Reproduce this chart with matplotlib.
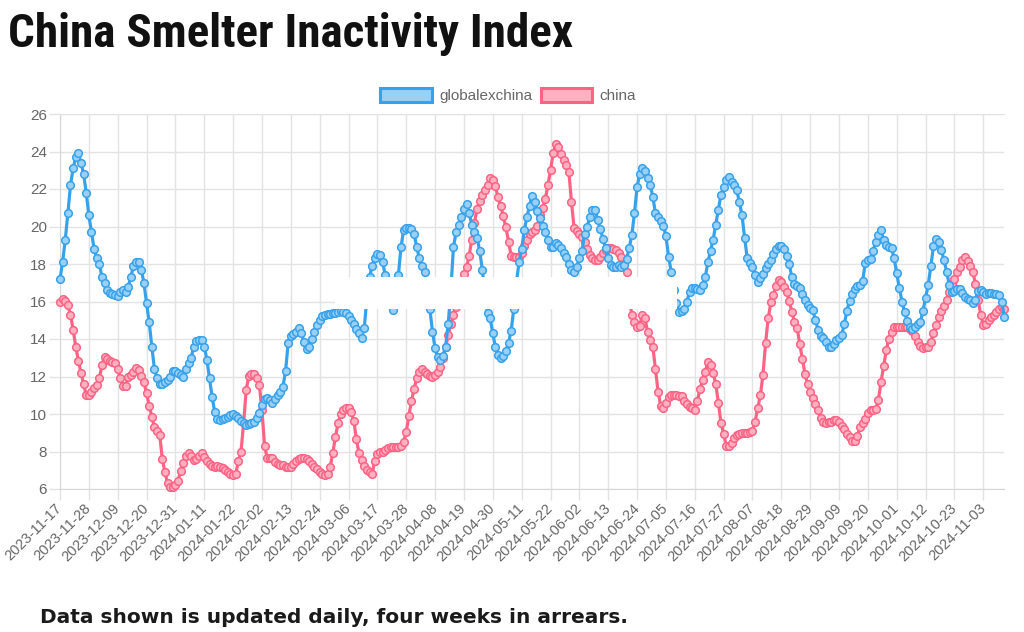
import matplotlib
matplotlib.use("Agg")
import matplotlib.pyplot as plt
from matplotlib.patches import Patch, Rectangle
import numpy as np
import pandas as pd

# ---------------- data ----------------
dates = pd.date_range("2023-11-17", periods=361, freq="D").strftime("%Y-%m-%d").tolist()

globalexchina = [
    17.2, 18.1, 19.3, 20.7, 22.2, 23.1, 23.7, 23.9, 23.4, 22.8, 21.8,
    20.6, 19.7, 18.8, 18.3, 18.0, 17.3, 17.0, 16.6, 16.45, 16.4, 16.35,
    16.3, 16.5, 16.6, 16.5, 16.8, 17.3, 17.9, 18.1, 18.1, 17.7, 17.0,
    15.9, 14.9, 13.6, 12.4, 11.9, 11.6, 11.6, 11.7, 11.8, 12.0, 12.3,
    12.3, 12.2, 12.1, 12.0, 12.4, 12.7, 13.0, 13.6, 13.9, 13.95, 13.95,
    13.6, 12.9, 11.9, 10.9, 10.1, 9.75, 9.7, 9.75, 9.8, 9.85, 9.95,
    10.0, 9.9, 9.8, 9.65, 9.5, 9.4, 9.45, 9.5, 9.6, 9.8, 10.05,
    10.5, 10.8, 10.85, 10.75, 10.6, 10.8, 11.0, 11.2, 11.45, 12.3, 13.8,
    14.15, 14.25, 14.4, 14.6, 14.3, 13.85, 13.45, 13.6, 14.0, 14.4, 14.75,
    15.0, 15.25, 15.3, 15.35, 15.35, 15.4, 15.4, 15.45, 15.5, 15.45, 15.4,
    15.25, 15.0, 14.8, 14.55, 14.3, 14.05, 14.6, 16.2, 17.3, 17.9, 18.3,
    18.55, 18.5, 18.1, 17.4, 16.6, 15.9, 15.55, 16.4, 17.4, 18.9, 19.8,
    19.9, 19.9, 19.85, 19.6, 18.9, 18.3, 17.9, 17.6, 16.7, 15.6, 14.4,
    13.5, 13.05, 12.9, 13.1, 13.6, 14.8, 16.6, 18.9, 19.7, 20.1, 20.5,
    20.95, 21.2, 20.7, 20.1, 19.7, 19.4, 18.7, 17.7, 16.4, 15.4, 15.1,
    14.3, 13.55, 13.15, 13.0, 13.1, 13.35, 13.8, 14.45, 15.6, 17.0, 18.1,
    18.8, 19.8, 20.5, 21.1, 21.65, 21.3, 20.85, 20.45, 20.05, 19.7, 19.3,
    18.9, 18.9, 19.1, 19.0, 18.85, 18.6, 18.35, 18.0, 17.7, 17.55, 17.85,
    18.3, 18.7, 19.6, 20.0, 20.5, 20.9, 20.9, 20.35, 19.85, 19.35, 18.85,
    18.3, 17.95, 17.85, 17.85, 17.95, 17.85, 17.95, 18.25, 18.85, 19.55, 20.7,
    22.1, 22.8, 23.1, 22.95, 22.6, 22.2, 21.6, 20.7, 20.5, 20.3, 20.05,
    19.5, 18.4, 17.6, 16.6, 15.9, 15.45, 15.5, 15.6, 16.0, 16.5, 16.7,
    16.7, 16.65, 16.6, 16.9, 17.3, 18.1, 18.7, 19.3, 20.1, 20.9, 21.7,
    22.1, 22.5, 22.65, 22.4, 22.2, 21.95, 21.3, 20.6, 19.4, 18.3, 18.05,
    17.85, 17.4, 17.05, 17.25, 17.45, 17.8, 18.0, 18.2, 18.55, 18.8, 18.95,
    18.95, 18.8, 18.45, 18.0, 17.3, 16.95, 16.85, 16.7, 16.4, 16.1, 15.8,
    15.65, 15.55, 15.0, 14.5, 14.15, 14.05, 13.85, 13.6, 13.55, 13.75, 13.95,
    14.05, 14.2, 14.8, 15.5, 16.05, 16.4, 16.65, 16.85, 16.9, 17.1, 18.05,
    18.2, 18.25, 18.7, 19.2, 19.55, 19.8, 19.3, 19.0, 18.9, 18.85, 18.3,
    17.5, 16.7, 16.0, 15.45, 14.95, 14.65, 14.55, 14.65, 14.8, 14.9, 15.5,
    16.2, 16.9, 17.9, 18.95, 19.35, 19.15, 18.75, 18.2, 17.6, 16.9, 16.5,
    16.55, 16.65, 16.65, 16.45, 16.25, 16.15, 16.1, 15.9, 16.1, 16.55, 16.6,
    16.5, 16.4, 16.45, 16.45, 16.4, 16.4, 16.35, 16.0, 15.2,
]

china = [
    16.0, 16.15, 16.05, 15.8, 15.3, 14.5, 13.6, 12.85, 12.2, 11.6, 11.0,
    11.0, 11.2, 11.4, 11.55, 11.9, 12.6, 13.05, 12.95, 12.85, 12.8, 12.7,
    12.4, 11.9, 11.5, 11.5, 11.95, 12.1, 12.25, 12.45, 12.35, 12.05, 11.7,
    11.1, 10.45, 9.85, 9.3, 9.1, 8.9, 7.6, 6.9, 6.3, 6.1, 6.1,
    6.2, 6.45, 6.95, 7.4, 7.75, 7.9, 7.75, 7.55, 7.6, 7.75, 7.9,
    7.7, 7.5, 7.35, 7.25, 7.15, 7.25, 7.2, 7.1, 7.0, 6.9, 6.8,
    6.75, 6.8, 7.5, 8.0, 9.5, 11.3, 12.05, 12.15, 12.15, 11.9, 11.55,
    10.2, 8.3, 7.65, 7.65, 7.65, 7.45, 7.35, 7.3, 7.3, 7.2, 7.15,
    7.15, 7.35, 7.5, 7.6, 7.65, 7.65, 7.6, 7.5, 7.35, 7.2, 7.05,
    6.9, 6.8, 6.75, 6.8, 7.2, 7.9, 8.8, 9.5, 10.0, 10.2, 10.3,
    10.3, 10.1, 9.65, 8.65, 7.9, 7.55, 7.25, 7.0, 6.9, 6.8, 7.5,
    7.85, 7.95, 8.0, 8.1, 8.2, 8.25, 8.25, 8.25, 8.25, 8.3, 8.5,
    9.05, 9.9, 10.7, 11.35, 11.9, 12.25, 12.4, 12.25, 12.15, 12.05, 12.0,
    12.1, 12.25, 12.5, 13.0, 13.55, 14.2, 14.8, 15.3, 15.7, 16.3, 16.9,
    17.45, 17.85, 18.45, 19.3, 20.2, 20.95, 21.35, 21.7, 21.95, 22.2, 22.6,
    22.5, 22.15, 21.55, 21.1, 20.55, 19.95, 19.2, 18.45, 18.4, 18.4, 18.4,
    18.6, 18.95, 19.3, 19.6, 19.7, 19.8, 20.05, 20.6, 21.0, 21.45, 22.2,
    23.0, 23.9, 24.4, 24.25, 23.85, 23.55, 23.3, 22.9, 21.3, 19.9, 19.75,
    19.6, 19.45, 19.2, 18.8, 18.5, 18.3, 18.2, 18.2, 18.4, 18.6, 18.75,
    18.85, 18.85, 18.8, 18.75, 18.6, 18.35, 18.0, 17.55, 16.2, 15.3, 14.9,
    14.65, 14.7, 15.3, 15.1, 14.4, 13.95, 13.6, 12.4, 11.2, 10.45, 10.3,
    10.6, 10.9, 11.0, 11.0, 11.0, 10.95, 10.95, 10.7, 10.55, 10.4, 10.3,
    10.2, 10.7, 11.35, 11.8, 12.25, 12.75, 12.6, 12.2, 11.6, 10.6, 9.5,
    8.95, 8.3, 8.3, 8.45, 8.7, 8.9, 8.95, 9.0, 9.0, 9.0, 9.05,
    9.1, 9.6, 10.3, 11.0, 12.1, 13.8, 15.1, 15.95, 16.35, 16.85, 17.15,
    17.05, 16.8, 16.5, 16.05, 15.45, 14.9, 14.6, 13.75, 12.95, 12.15, 11.6,
    11.2, 10.85, 10.55, 10.2, 9.8, 9.55, 9.5, 9.55, 9.6, 9.7, 9.7,
    9.55, 9.35, 9.2, 8.95, 8.75, 8.55, 8.55, 8.85, 9.3, 9.5, 9.75,
    10.05, 10.2, 10.2, 10.25, 10.75, 11.7, 12.55, 13.4, 14.0, 14.4, 14.65,
    14.65, 14.65, 14.65, 14.65, 14.65, 14.55, 14.45, 14.15, 13.85, 13.65, 13.5,
    13.55, 13.6, 13.85, 14.3, 14.75, 15.2, 15.5, 15.75, 16.1, 16.5, 16.95,
    17.2, 17.55, 17.85, 18.2, 18.4, 18.15, 17.9, 17.6, 16.95, 16.1, 15.3,
    14.75, 14.8, 15.0, 15.15, 15.3, 15.45, 15.6, 15.7, 15.6,
]

series_names = ["globalexchina", "china"]
y_ticks = list(range(6, 27, 2))
tick_step = 11
title = "China Smelter Inactivity Index"
footer = "Data shown is updated daily, four weeks in arrears."

assert len(globalexchina) == len(dates) == len(china)

# ---------------- style ----------------
plt.rcParams["font.family"] = ["Liberation Sans", "DejaVu Sans"]
BLUE, BLUE_FILL = "#36a2eb", "#9ad0f5"
PINK, PINK_FILL = "#ff6384", "#ffb1c1"
GRID = "#e3e3e3"
TXT = "#666666"

W, H = 1024, 632
fig = plt.figure(figsize=(W / 100, H / 100), dpi=100)
fig.patch.set_facecolor("white")
ax = fig.add_axes([60 / W, 1 - 489 / H, (1004.3 - 60) / W, 375 / H])

x = np.arange(len(dates))
ax.plot(x, china, color=PINK, lw=2.3, marker="o", ms=5.5, mfc=PINK_FILL,
        mec=PINK, mew=1.1, zorder=3, clip_on=False)
ax.plot(x, globalexchina, color=BLUE, lw=2.3, marker="o", ms=5.5, mfc=BLUE_FILL,
        mec=BLUE, mew=1.1, zorder=4, clip_on=False)

ax.set_xlim(0, len(dates) - 1)
ax.set_ylim(min(y_ticks), max(y_ticks))
ax.set_yticks(y_ticks)
tick_idx = x[::tick_step]
ax.set_xticks(tick_idx)
ax.set_xticklabels([dates[i] for i in tick_idx], rotation=45, ha="right",
                   va="center", rotation_mode="anchor")
ax.grid(True, color=GRID, lw=1, zorder=0)
ax.set_axisbelow(True)
ax.tick_params(axis="both", length=8, width=1, color=GRID, labelcolor=TXT)
ax.tick_params(axis="x", labelsize=10.5, pad=4.5)
ax.tick_params(axis="y", labelsize=11, pad=1.5)
ax.spines["right"].set_visible(False)
ax.spines["top"].set_color(GRID)
ax.spines["left"].set_color("#d6d6d6")
ax.spines["bottom"].set_color("#d6d6d6")

# legend
handles = [Patch(facecolor=BLUE_FILL, edgecolor=BLUE, lw=2.2),
           Patch(facecolor=PINK_FILL, edgecolor=PINK, lw=2.2)]
fig.legend(handles, series_names, loc="center", bbox_to_anchor=(508 / W, 1 - 95.5 / H),
           ncol=2, frameon=False, fontsize=11, handlelength=3.4, handleheight=1.0,
           handletextpad=0.45, columnspacing=0.55, labelcolor=TXT)

# white overlay band present in the original image
fig.patches.append(Rectangle((335 / W, 1 - 309 / H), (677 - 335) / W, 32 / H,
                             transform=fig.transFigure, facecolor="white",
                             edgecolor="none", zorder=5))

# title: condensed bold face if available; fit to the original width
t = fig.text(8 / W, 1 - 47 / H, title, fontsize=35, fontweight="bold",
             fontstretch="condensed",
             family=["Roboto Condensed", "Liberation Sans Narrow", "DejaVu Sans"],
             va="baseline", color="#111111")
fig.canvas.draw()
bw = t.get_window_extent().width
target_w = 566
if bw > target_w:
    t.set_fontsize(35 * target_w / bw)

fig.text(40 / W, 1 - 623 / H, footer, fontsize=14.5, fontweight="bold",
         family=["DejaVu Sans"], va="baseline", color="#1a1a1a")

fig.savefig("out.png", dpi=100, facecolor="white")
